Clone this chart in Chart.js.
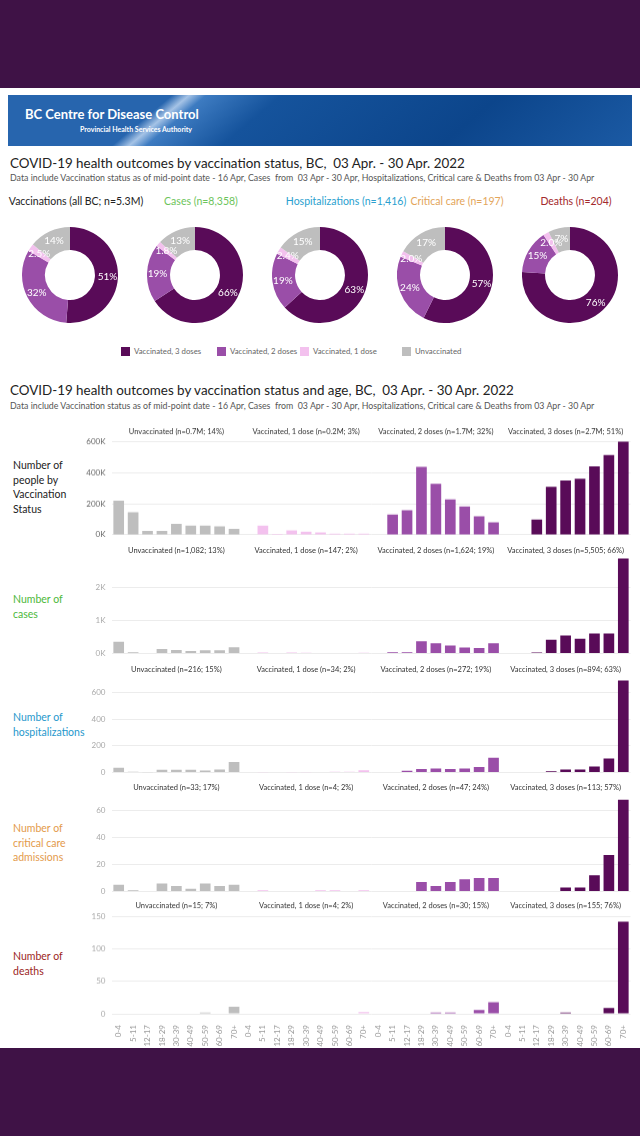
<!DOCTYPE html>
<html>
<head>
<meta charset="utf-8">
<script src="https://cdn.jsdelivr.net/npm/chart.js@4.4.1/dist/chart.umd.min.js"></script>
<style>
  html, body { margin: 0; padding: 0; }
  body { width: 640px; height: 1136px; position: relative; overflow: hidden; background: #3f1246; font-family: Lato, "Open Sans", sans-serif; }
  .abs { position: absolute; }
  #sheet { left: 0; top: 88px; width: 640px; height: 960px; background: #fff; }
  #banner { left: 8px; top: 95px; width: 624px; height: 51px; overflow: hidden;
    background: linear-gradient(140deg, #2765ae 0%, #2765ae 24%, #a5c3e6 26.5%, #3d7bc1 29%, #15539c 40%, #0c458b 72%, #1b5aa4 100%); }
  #banner .t1 { left: 17px; top: 11px; color: #fff; font-weight: 700; font-size: 13px; white-space: nowrap; }
  #banner .t2 { left: 72px; top: 30px; color: #fff; font-weight: 700; font-size: 7px; white-space: nowrap; }
  .h1 { left: 10px; font-size: 14px; line-height: 18px; color: #222; white-space: pre; transform: scaleX(0.956); transform-origin: left center; }
  .sub { left: 10px; font-size: 8.8px; line-height: 10px; color: #555; white-space: pre; }
  .dtitle { font-size: 10.5px; line-height: 13px; white-space: nowrap; transform: translateX(-50%); }
  .rowlab { left: 13px; font-size: 10.5px; line-height: 14.5px; white-space: nowrap; }
  .leg { font-size: 7.8px; line-height: 10px; color: #666; white-space: nowrap; }
</style>
</head>
<body>
<div id="sheet" class="abs"></div>
<div id="banner" class="abs">
  <div class="abs t1">BC Centre for Disease Control</div>
  <div class="abs t2">Provincial Health Services Authority</div>
</div>
<div class="abs h1" style="top:154px">COVID-19 health outcomes by vaccination status, BC,  03 Apr. - 30 Apr. 2022</div>
<div class="abs sub" style="top:173px">Data include Vaccination status as of mid-point date - 16 Apr, Cases  from  03 Apr - 30 Apr, Hospitalizations, Critical care &amp; Deaths from 03 Apr - 30 Apr</div>
<div class="abs h1" style="top:381px">COVID-19 health outcomes by vaccination status and age, BC,  03 Apr. - 30 Apr. 2022</div>
<div class="abs sub" style="top:401px">Data include Vaccination status as of mid-point date - 16 Apr, Cases  from  03 Apr - 30 Apr, Hospitalizations, Critical care &amp; Deaths from 03 Apr - 30 Apr</div>

<div class="abs rowlab" style="top:458px;color:#222">Number of<br>people by<br>Vaccination<br>Status</div>
<div class="abs rowlab" style="top:592px;color:#4cb83a">Number of<br>cases</div>
<div class="abs rowlab" style="top:710px;color:#1f98cc">Number of<br>hospitalizations</div>
<div class="abs rowlab" style="top:821px;color:#e39a4b">Number of<br>critical care<br>admissions</div>
<div class="abs rowlab" style="top:949px;color:#9c1f24">Number of<br>deaths</div>

<script>
const ageGroups = ['0-4', '5-11', '12-17', '18-29', '30-39', '40-49', '50-59', '60-69', '70+'];
const statusNames = ['Unvaccinated', 'Vaccinated, 1 dose', 'Vaccinated, 2 doses', 'Vaccinated, 3 doses'];
const statusColors = ['#bebebe', '#f3c1ee', '#9a4ea8', '#590b58'];

// donuts, slices clockwise from the top: 3 doses, 2 doses, 1 dose, unvaccinated
const donutTitles = ['Vaccinations (all BC; n=5.3M)', 'Cases (n=8,358)', 'Hospitalizations (n=1,416)', 'Critical care (n=197)', 'Deaths (n=204)'];
const donutTitleColors = ['#222', '#6cc45a', '#2a9fcf', '#e3a55a', '#a3292c'];
const vaxShare = [51, 32, 2.5, 14];
const casesByStatus = [5505, 1624, 147, 1082];
const hospByStatus = [894, 272, 34, 216];
const critByStatus = [113, 47, 4, 33];
const deathsByStatus = [155, 30, 4, 15];

// people by age (thousands)
const peopleUnvax = [221, 146, 26, 26, 71, 60, 60, 54, 39];
const people1Dose = [0, 60, 6, 28, 21, 15, 8, 8, 8];
const people2Dose = [0, 131, 159, 439, 329, 228, 183, 120, 80];
const people3Dose = [0, 0, 99, 310, 350, 361, 441, 514, 600];
const peopleTitles = ['Unvaccinated (n=0.7M; 14%)', 'Vaccinated, 1 dose (n=0.2M; 3%)', 'Vaccinated, 2 doses (n=1.7M; 32%)', 'Vaccinated, 3 doses (n=2.7M; 51%)'];
const peopleTicks = [0, 200, 400, 600];

const casesUnvax = [350, 35, 15, 130, 105, 70, 95, 95, 187];
const cases1Dose = [0, 30, 10, 25, 20, 15, 15, 12, 20];
const cases2Dose = [0, 32, 32, 370, 305, 240, 175, 165, 305];
const cases3Dose = [0, 0, 25, 410, 545, 440, 605, 605, 2875];
const casesTitles = ['Unvaccinated (n=1,082; 13%)', 'Vaccinated, 1 dose (n=147; 2%)', 'Vaccinated, 2 doses (n=1,624; 19%)', 'Vaccinated, 3 doses (n=5,505; 66%)'];
const casesTicks = [0, 1000, 2000];

const hospUnvax = [36, 4, 1, 20, 20, 20, 14, 22, 79];
const hosp1Dose = [0, 1, 0, 2, 2, 3, 4, 5, 17];
const hosp2Dose = [0, 0, 12, 25, 30, 25, 30, 40, 110];
const hosp3Dose = [0, 0, 0, 8, 22, 22, 44, 105, 693];
const hospTitles = ['Unvaccinated (n=216; 15%)', 'Vaccinated, 1 dose (n=34; 2%)', 'Vaccinated, 2 doses (n=272; 19%)', 'Vaccinated, 3 doses (n=894; 63%)'];
const hospTicks = [0, 200, 400, 600];

const critUnvax = [5, 1, 0, 6, 4, 2, 6, 4, 5];
const crit1Dose = [0, 1, 0, 0, 0, 1, 1, 0, 1];
const crit2Dose = [0, 0, 0, 7, 4, 7, 9, 10, 10];
const crit3Dose = [0, 0, 0, 0, 3, 3, 12, 27, 68];
const critTitles = ['Unvaccinated (n=33; 17%)', 'Vaccinated, 1 dose (n=4; 2%)', 'Vaccinated, 2 doses (n=47; 24%)', 'Vaccinated, 3 doses (n=113; 57%)'];
const critTicks = [0, 20, 40, 60];

const deathsUnvax = [0, 0, 0, 0, 0, 1, 2, 1, 11];
const deaths1Dose = [0, 0, 0, 0, 0, 0, 0, 1, 3];
const deaths2Dose = [0, 0, 0, 1, 2, 2, 1, 6, 18];
const deaths3Dose = [0, 0, 0, 1, 2, 0, 1, 9, 142];
const deathsTitles = ['Unvaccinated (n=15; 7%)', 'Vaccinated, 1 dose (n=4; 2%)', 'Vaccinated, 2 doses (n=30; 15%)', 'Vaccinated, 3 doses (n=155; 76%)'];
const deathsTicks = [0, 50, 100, 150];

Chart.defaults.font.family = 'Lato, "Open Sans", sans-serif';
Chart.defaults.animation = false;

function box(left, top, w, h) {
    const d = document.createElement('div');
    d.className = 'abs';
    d.style.left = left + 'px';
    d.style.top = top + 'px';
    d.style.width = w + 'px';
    d.style.height = h + 'px';
    document.body.appendChild(d);
    return d;
}

// percentage labels on the donut slices
const sliceLabels = {
    id: 'sliceLabels',
    afterDatasetsDraw(chart) {
        const ctx = chart.ctx;
        const data = chart.data.datasets[0].data;
        const total = data.reduce((a, b) => a + b, 0);
        ctx.save();
        ctx.font = '10px Lato';
        ctx.fillStyle = '#fff';
        ctx.textAlign = 'center';
        ctx.textBaseline = 'middle';
        chart.getDatasetMeta(0).data.forEach((arc, i) => {
            const p = data[i] / total * 100;
            const txt = p < 5 ? p.toFixed(1) + '%' : Math.round(p) + '%';
            const mid = (arc.startAngle + arc.endAngle) / 2;
            const r = (arc.innerRadius + arc.outerRadius) / 2 + 1;
            ctx.fillText(txt, arc.x + Math.cos(mid) * r, arc.y + Math.sin(mid) * r);
        });
        ctx.restore();
    }
};

// panel headings above each group of 9 bars
const panelTitles = {
    id: 'panelTitles',
    afterDraw(chart, args, opts) {
        const {ctx, chartArea} = chart;
        const x = chart.scales.x;
        ctx.save();
        ctx.font = '7.5px Lato';
        ctx.fillStyle = '#333';
        ctx.textAlign = 'center';
        ctx.textBaseline = 'middle';
        opts.titles.forEach((t, i) => {
            const cx = (x.getPixelForValue(i * 9) + x.getPixelForValue(i * 9 + 8)) / 2;
            ctx.fillText(t, cx, chartArea.top + opts.offset);
        });
        ctx.restore();
    }
};

const donutX = [70, 195, 320, 445, 570];
const donutTitleX = [76, 201, 346, 457, 576];
[vaxShare, casesByStatus, hospByStatus, critByStatus, deathsByStatus].forEach((vals, i) => {
    const t = document.createElement('div');
    t.className = 'abs dtitle';
    t.style.left = donutTitleX[i] + 'px';
    t.style.top = '194.5px';
    t.style.color = donutTitleColors[i];
    t.textContent = donutTitles[i];
    document.body.appendChild(t);

    const wrap = box(donutX[i] - 48, 227, 96, 96);
    const cv = document.createElement('canvas');
    wrap.appendChild(cv);
    new Chart(cv, {
        type: 'doughnut',
        data: {
            labels: [statusNames[3], statusNames[2], statusNames[1], statusNames[0]],
            datasets: [{
                data: vals,
                backgroundColor: [statusColors[3], statusColors[2], statusColors[1], statusColors[0]],
                borderWidth: 0
            }]
        },
        options: {
            responsive: true,
            maintainAspectRatio: false,
            cutout: '52%',
            plugins: { legend: { display: false }, tooltip: { enabled: false } }
        },
        plugins: [sliceLabels]
    });
});

// legend under the donuts
const legendX = [121, 217, 300, 402];
[3, 2, 1, 0].forEach((s, i) => {
    const sw = box(legendX[i], 346.5, 9, 9);
    sw.style.background = statusColors[s];
    const t = document.createElement('div');
    t.className = 'abs leg';
    t.style.left = (legendX[i] + 13) + 'px';
    t.style.top = '346px';
    t.textContent = statusNames[s];
    document.body.appendChild(t);
});

function fitArea(chart, wrap, pad, area) {
    let ca = chart.chartArea;
    pad.left += area.left - ca.left;
    pad.right += ca.right - area.right;
    const extra = chart.height - (ca.bottom - ca.top);
    wrap.style.height = (area.bottom - area.top + extra) + 'px';
    chart.resize();
    chart.update();
    ca = chart.chartArea;
    wrap.style.top = (area.top - ca.top) + 'px';
}

function barRow(row) {
    const wrap = box(0, 0, 640, 160);
    const cv = document.createElement('canvas');
    wrap.appendChild(cv);
    const pad = { top: 16, right: 10, bottom: 0, left: 0 };
    const chart = new Chart(cv, {
        type: 'bar',
        data: {
            labels: row.series.flatMap(() => ageGroups),
            datasets: [{
                data: row.series.flat(),
                backgroundColor: row.series.flatMap((s, i) => s.map(() => statusColors[i])),
                barPercentage: 0.74,
                categoryPercentage: 1
            }]
        },
        options: {
            responsive: true,
            maintainAspectRatio: false,
            layout: { padding: pad },
            plugins: {
                legend: { display: false },
                tooltip: { enabled: false },
                panelTitles: { titles: row.titles, offset: row.titleY - row.top }
            },
            scales: {
                x: {
                    display: row.showAges,
                    grid: { display: false },
                    border: { display: false },
                    ticks: { color: '#999', font: { size: 8 }, minRotation: 90, maxRotation: 90, autoSkip: false, padding: 3 }
                },
                y: {
                    min: 0,
                    max: row.max,
                    border: { display: false },
                    grid: { color: '#ececec', drawTicks: false },
                    ticks: { color: row.tickColor, font: { size: 8 }, padding: 6, callback: row.fmt },
                    afterBuildTicks: axis => { axis.ticks = row.ticks.map(v => ({ value: v })); }
                }
            }
        },
        plugins: [panelTitles]
    });
    fitArea(chart, wrap, pad, { left: 111.5, right: 630.5, top: row.top, bottom: row.bottom });
}

barRow({ series: [peopleUnvax, people1Dose, people2Dose, people3Dose], titles: peopleTitles, ticks: peopleTicks,
    max: 630, fmt: v => v + 'K', tickColor: '#666', top: 437.1, bottom: 534, titleY: 431.7, showAges: false });
barRow({ series: [casesUnvax, cases1Dose, cases2Dose, cases3Dose], titles: casesTitles, ticks: casesTicks,
    max: 2950, fmt: v => (v / 1000) + 'K', tickColor: '#aaa', top: 556.3, bottom: 653.7, titleY: 550.5, showAges: false });
barRow({ series: [hospUnvax, hosp1Dose, hosp2Dose, hosp3Dose], titles: hospTitles, ticks: hospTicks,
    max: 720, fmt: v => v, tickColor: '#aaa', top: 677.1, bottom: 772.5, titleY: 670, showAges: false });
barRow({ series: [critUnvax, crit1Dose, crit2Dose, crit3Dose], titles: critTitles, ticks: critTicks,
    max: 70, fmt: v => v, tickColor: '#aaa', top: 797, bottom: 891.5, titleY: 787.5, showAges: false });
barRow({ series: [deathsUnvax, deaths1Dose, deaths2Dose, deaths3Dose], titles: deathsTitles, ticks: deathsTicks,
    max: 155, fmt: v => v, tickColor: '#aaa', top: 913.2, bottom: 1013.3, titleY: 906, showAges: true });
</script>
</body>
</html>
